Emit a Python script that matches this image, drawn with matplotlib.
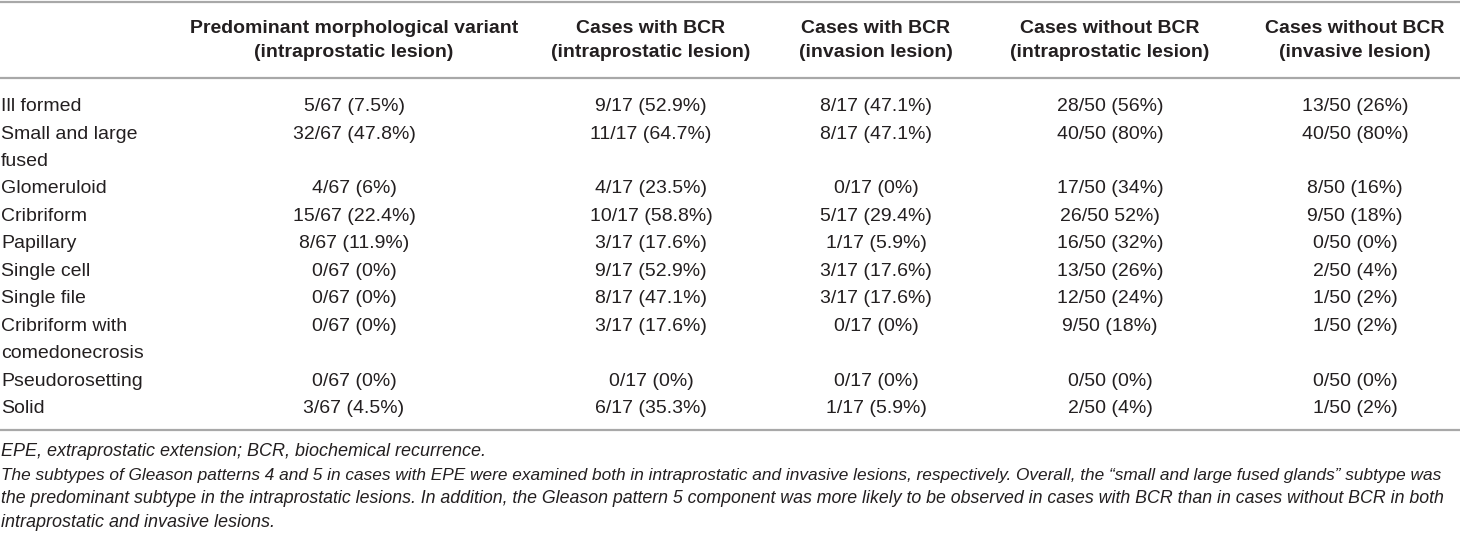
import matplotlib
matplotlib.use("Agg")
import matplotlib.pyplot as plt

# ---------------- data ----------------
headers = [
    "Predominant morphological variant\n(intraprostatic lesion)",
    "Cases with BCR\n(intraprostatic lesion)",
    "Cases with BCR\n(invasion lesion)",
    "Cases without BCR\n(intraprostatic lesion)",
    "Cases without BCR\n(invasive lesion)",
]
categories = [
    "Ill formed",
    "Small and large\nfused",
    "Glomeruloid",
    "Cribriform",
    "Papillary",
    "Single cell",
    "Single file",
    "Cribriform with\ncomedonecrosis",
    "Pseudorosetting",
    "Solid",
]
predominant = ["5/67 (7.5%)", "32/67 (47.8%)", "4/67 (6%)", "15/67 (22.4%)", "8/67 (11.9%)",
               "0/67 (0%)", "0/67 (0%)", "0/67 (0%)", "0/67 (0%)", "3/67 (4.5%)"]
bcr_intra = ["9/17 (52.9%)", "11/17 (64.7%)", "4/17 (23.5%)", "10/17 (58.8%)", "3/17 (17.6%)",
             "9/17 (52.9%)", "8/17 (47.1%)", "3/17 (17.6%)", "0/17 (0%)", "6/17 (35.3%)"]
bcr_invasion = ["8/17 (47.1%)", "8/17 (47.1%)", "0/17 (0%)", "5/17 (29.4%)", "1/17 (5.9%)",
                "3/17 (17.6%)", "3/17 (17.6%)", "0/17 (0%)", "0/17 (0%)", "1/17 (5.9%)"]
nobcr_intra = ["28/50 (56%)", "40/50 (80%)", "17/50 (34%)", "26/50 52%)", "16/50 (32%)",
               "13/50 (26%)", "12/50 (24%)", "9/50 (18%)", "0/50 (0%)", "2/50 (4%)"]
nobcr_invasive = ["13/50 (26%)", "40/50 (80%)", "8/50 (16%)", "9/50 (18%)", "0/50 (0%)",
                  "2/50 (4%)", "1/50 (2%)", "1/50 (2%)", "0/50 (0%)", "1/50 (2%)"]
footnotes = [
    "EPE, extraprostatic extension; BCR, biochemical recurrence.",
    "The subtypes of Gleason patterns 4 and 5 in cases with EPE were examined both in intraprostatic and invasive lesions, respectively. Overall, the \u201csmall and large fused glands\u201d subtype was",
    "the predominant subtype in the intraprostatic lesions. In addition, the Gleason pattern 5 component was more likely to be observed in cases with BCR than in cases without BCR in both",
    "intraprostatic and invasive lesions.",
]
columns = [predominant, bcr_intra, bcr_invasion, nobcr_intra, nobcr_invasive]

# ---------------- layout ----------------
W, H = 1460, 538
fig = plt.figure(figsize=(W / 100, H / 100), dpi=100)
ax = fig.add_axes([0, 0, 1, 1])
ax.set_xlim(0, W)
ax.set_ylim(H, 0)
ax.axis("off")

FONT = "Liberation Sans"
TXT = "#231f20"
RULE = "#a8a8a8"
col_x = [354, 651, 876, 1110, 1355]
body_size = 14
head_size = 14
foot_size = 13

# rules
for y in (1.5, 78, 429.5):
    ax.plot([0, W], [y, y], color=RULE, lw=1.6, solid_capstyle="butt")

# header
for x, h in zip(col_x, headers):
    l1, l2 = h.split("\n")
    ax.text(x, 33, l1, ha="center", va="baseline", fontsize=head_size, fontweight="bold",
            family=FONT, color=TXT)
    ax.text(x, 57, l2, ha="center", va="baseline", fontsize=head_size, fontweight="bold",
            family=FONT, color=TXT)

# body
base0 = 111.2
step = 27.43
line = 0
for i, cat in enumerate(categories):
    parts = cat.split("\n")
    y = base0 + line * step
    for k, p in enumerate(parts):
        ax.text(1, y + k * step, p, ha="left", va="baseline", fontsize=body_size,
                family=FONT, color=TXT)
    for x, col in zip(col_x, columns):
        ax.text(x, y, col[i], ha="center", va="baseline", fontsize=body_size,
                family=FONT, color=TXT)
    line += len(parts)

# footnotes (justified lines fitted to width)
fig.canvas.draw()
renderer = fig.canvas.get_renderer()
foot_base = [456, 479.7, 503.4, 527]
target = [None, 1446, 1446, None]
for t, yb, tw in zip(footnotes, foot_base, target):
    txt = ax.text(1, yb, t, ha="left", va="baseline", fontsize=foot_size, style="italic",
                  family=FONT, color=TXT)
    if tw is not None:
        size = foot_size
        for _ in range(6):
            w = txt.get_window_extent(renderer).x1
            size = size * tw / w
            txt.set_fontsize(size)
        while txt.get_window_extent(renderer).x1 > tw:
            size -= 0.05
            txt.set_fontsize(size)

fig.savefig("out.png", dpi=100)
